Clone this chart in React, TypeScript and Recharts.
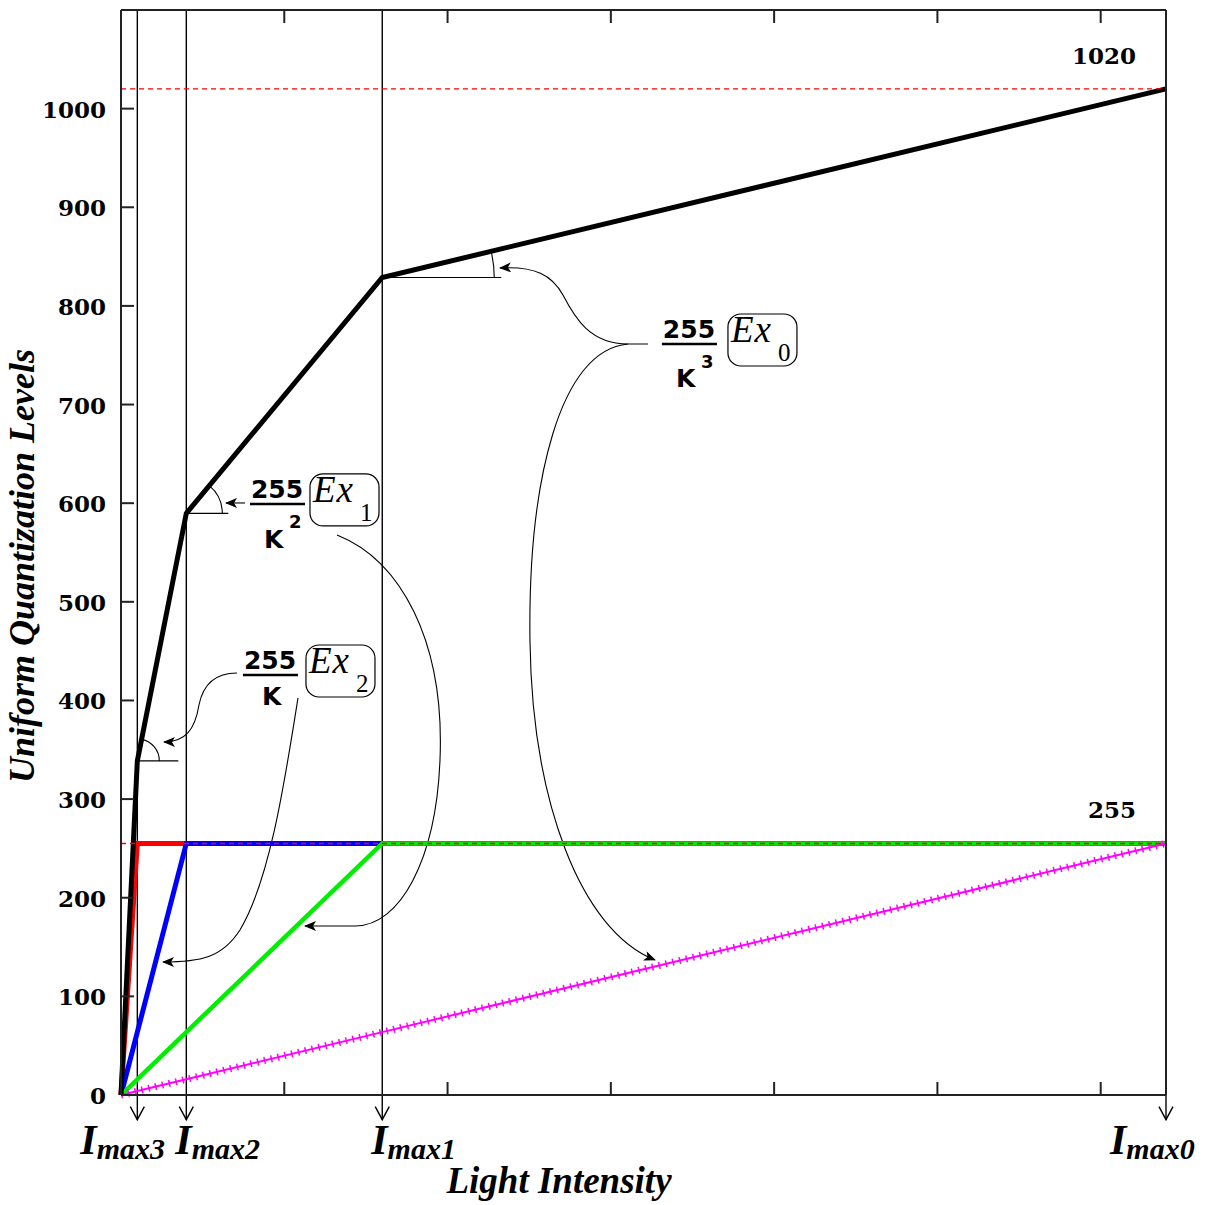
import {
  Line,
  LineChart,
  ReferenceDot,
  ReferenceLine,
  XAxis,
  YAxis,
  usePlotArea,
} from "recharts";

// light intensity breakpoints (Imax3 = 1 ... Imax0 = 64, K = 4)
const intensity = [0, 1, 4, 16, 64];
const exposure3 = [0, 255, 255, 255, 255]; // red
const exposure2 = [0, 63.75, 255, 255, 255]; // blue
const exposure1 = [0, 15.9, 63.75, 255, 255]; // green
const exposure0 = [0, 4, 15.9, 63.75, 255]; // magenta
const combined = [0, 338.7, 589.7, 828.8, 1020]; // black

const xTicks = [10, 20, 30, 40, 50, 60];
const yTicks = [0, 100, 200, 300, 400, 500, 600, 700, 800, 900, 1000];
const imaxPositions = [1, 4, 16];
const imaxLabels = ["max3", "max2", "max1", "max0"];
const imaxValues = [1, 4, 16, 64];
const imaxShift = [-57, -11, -11, -56];
const levelLines = [1020, 255];

const X_MAX = 64;
const Y_MAX = 1100;
const FRAME = "#222";

const data = intensity.map((x, i) => ({
  x,
  red: exposure3[i],
  blue: exposure2[i],
  green: exposure1[i],
  magenta: exposure0[i],
  black: combined[i],
}));

function LeftTick({ x, y, payload }: any) {
  return (
    <g>
      <line x1={x} x2={x + 13} y1={y} y2={y} stroke={FRAME} strokeWidth={2} />
      <text
        x={x - 15}
        y={y + 9}
        textAnchor="end"
        fontFamily="DejaVu Serif"
        fontWeight="bold"
        fontSize={23}
        fill="#000"
      >
        {payload.value}
      </text>
    </g>
  );
}

function BottomTick({ x, y }: any) {
  return <line x1={x} x2={x} y1={y} y2={y - 13} stroke={FRAME} strokeWidth={2} />;
}

function TopTick({ x, y }: any) {
  return <line x1={x} x2={x} y1={y} y2={y + 13} stroke={FRAME} strokeWidth={2} />;
}

function RightTick({ x, y }: any) {
  return <line x1={x} x2={x - 13} y1={y} y2={y} stroke={FRAME} strokeWidth={2} />;
}

function LevelLabel({ viewBox, text }: any) {
  if (!viewBox) return null;
  return (
    <text
      x={viewBox.x + viewBox.width - 30}
      y={viewBox.y - 25}
      textAnchor="end"
      fontFamily="DejaVu Serif"
      fontWeight="bold"
      fontSize={23}
      fill="#000"
    >
      {text}
    </text>
  );
}

function ImaxMark({ cx, cy, label, shift }: any) {
  return (
    <g>
      <path
        d={`M${cx - 7},${cy - 13} L${cx},${cy} L${cx + 7},${cy - 13}`}
        fill="none"
        stroke="#000"
        strokeWidth={1.4}
      />
      <text
        x={cx + shift}
        y={cy + 34}
        fontFamily="Liberation Serif"
        fontStyle="italic"
        fontWeight="bold"
        fill="#000"
      >
        <tspan fontSize={42}>I</tspan>
        <tspan fontSize={30} dy={5}>
          {label}
        </tspan>
      </text>
    </g>
  );
}

// fraction 255/K^n with boxed Ex_i, anchored at left end of fraction bar
function FracLabel({ bx, by, power, sub, boxDx, denomDy }: any) {
  return (
    <g fill="#000">
      <text x={bx + 27} y={by - 6} textAnchor="middle" fontFamily="DejaVu Sans" fontWeight="bold" fontSize={25}>
        255
      </text>
      <line x1={bx} x2={bx + 55} y1={by} y2={by} stroke="#000" strokeWidth={2.5} />
      <text x={power ? bx + 14 : bx + 19} y={by + denomDy} fontFamily="DejaVu Sans" fontWeight="bold" fontSize={25}>
        K
      </text>
      {power && (
        <text x={bx + 39} y={by + 24} fontFamily="DejaVu Sans" fontWeight="bold" fontSize={18}>
          {power}
        </text>
      )}
      <rect x={bx + boxDx} y={by - 30} width={69} height={52} rx={13} fill="none" stroke="#000" strokeWidth={1.2} />
      <text x={bx + boxDx + 3} y={by - 2} fontFamily="Liberation Serif" fontStyle="italic" fontSize={37} letterSpacing={1}>
        Ex
      </text>
      <text x={bx + boxDx + 50} y={by + 17} fontFamily="Liberation Serif" fontSize={25}>
        {sub}
      </text>
    </g>
  );
}

function Annotations() {
  const area = usePlotArea();
  if (!area) return null;
  const sx = (v: number) => area.x + (v / X_MAX) * area.width;
  const sy = (v: number) => area.y + area.height - (v / Y_MAX) * area.height;

  // angle marks at the knees of the combined curve
  const knees = [
    { i: 1, r: 22, len: 41 },
    { i: 2, r: 36, len: 42 },
    { i: 3, r: 112, len: 119 },
  ];

  const ex0 = { x: sx(33.13), y: sy(761.4) };
  const ex1 = { x: sx(7.9), y: sy(599.2) };
  const ex2 = { x: sx(7.47), y: sy(425.8) };

  const rel = (o: { x: number; y: number }, d: string) =>
    d.replace(/(-?\d+(?:\.\d+)?),(-?\d+(?:\.\d+)?)/g, (_m, a, b) => `${o.x + Number(a)},${o.y + Number(b)}`);

  const curve = { fill: "none", stroke: "#000", strokeWidth: 1.1, markerEnd: "url(#arrowHead)" };

  return (
    <g>
      <defs>
        <marker id="arrowHead" markerWidth={12} markerHeight={10} refX={11} refY={5} orient="auto" markerUnits="userSpaceOnUse">
          <path d="M0,0 L12,5 L0,10 L3,5 Z" fill="#000" />
        </marker>
      </defs>

      {knees.map(({ i, r, len }) => {
        const cx = sx(intensity[i]);
        const cy = sy(combined[i]);
        const nx = sx(intensity[i + 1]);
        const ny = sy(combined[i + 1]);
        const a = Math.atan2(ny - cy, nx - cx);
        return (
          <g key={i} fill="none" stroke="#000" strokeWidth={1.1}>
            <line x1={cx} x2={cx + len} y1={cy} y2={cy} />
            <path d={`M${cx + r},${cy} A${r},${r} 0 0 0 ${cx + r * Math.cos(a)},${cy + r * Math.sin(a)}`} />
          </g>
        );
      })}

      <FracLabel bx={ex0.x} by={ex0.y} power="3" sub="0" boxDx={66} denomDy={43} />
      <FracLabel bx={ex1.x} by={ex1.y} power="2" sub="1" boxDx={60} denomDy={44} />
      <FracLabel bx={ex2.x} by={ex2.y} power="" sub="2" boxDx={63} denomDy={30} />

      <path {...curve} d={rel(ex0, "M-14,0 L-34,0 C-72,0 -87,-26 -99,-49 C-110,-69 -127,-78 -162,-76")} />
      <path {...curve} d={rel(ex0, "M-34,0 C-102,6 -134,136 -132,296 C-130,456 -82,586 -7,616")} />
      <path {...curve} d={rel(ex1, "M87,31 C150,56 195,136 190,256 C186,356 150,422 105,422 L55,422")} />
      <path {...curve} d={rel(ex1, "M-5,-1 L-24,-1")} />
      <path {...curve} d={rel(ex2, "M55,23 C42,105 27,205 -3,255 C-21,283 -43,287 -80,287")} />
      <path {...curve} d={rel(ex2, "M-6,-2 C-28,-2 -40,10 -44,30 C-48,55 -58,67 -79,67")} />

      <text
        x={area.x + 438}
        y={area.y + area.height + 98}
        textAnchor="middle"
        fontFamily="Liberation Serif"
        fontStyle="italic"
        fontWeight="bold"
        fontSize={37}
        fill="#000"
      >
        Light Intensity
      </text>
      <text
        transform={`translate(${area.x - 87},${area.y + 556}) rotate(-90)`}
        textAnchor="middle"
        fontFamily="Liberation Serif"
        fontStyle="italic"
        fontWeight="bold"
        fontSize={36}
        fill="#000"
      >
        Uniform Quantization Levels
      </text>
    </g>
  );
}

export default function App() {
  return (
    <div style={{ position: "absolute", left: 0, top: 0, background: "#fff" }}>
      <LineChart width={1209} height={1205} data={data} margin={{ top: 9, right: 42, bottom: 20, left: 21 }}>
        <XAxis
          dataKey="x"
          type="number"
          domain={[0, X_MAX]}
          ticks={xTicks}
          interval={0}
          height={90}
          tickSize={0}
          tickMargin={0}
          tickLine={false}
          tick={<BottomTick />}
          axisLine={{ stroke: FRAME, strokeWidth: 2 }}
        />
        <XAxis
          xAxisId="top"
          dataKey="x"
          orientation="top"
          type="number"
          domain={[0, X_MAX]}
          ticks={xTicks}
          interval={0}
          height={1}
          tickSize={0}
          tickMargin={0}
          tickLine={false}
          tick={<TopTick />}
          axisLine={{ stroke: FRAME, strokeWidth: 2 }}
        />
        <YAxis
          type="number"
          domain={[0, Y_MAX]}
          ticks={yTicks}
          interval={0}
          width={100}
          tickSize={0}
          tickMargin={0}
          tickLine={false}
          tick={<LeftTick />}
          axisLine={{ stroke: FRAME, strokeWidth: 2 }}
        />
        <YAxis
          yAxisId="right"
          orientation="right"
          type="number"
          domain={[0, Y_MAX]}
          ticks={yTicks}
          interval={0}
          width={1}
          tickSize={0}
          tickMargin={0}
          tickLine={false}
          tick={<RightTick />}
          axisLine={{ stroke: FRAME, strokeWidth: 2 }}
        />

        {imaxPositions.map((v) => (
          <ReferenceLine
            key={v}
            segment={[
              { x: v, y: Y_MAX },
              { x: v, y: -25 },
            ]}
            ifOverflow="visible"
            stroke="#000"
            strokeWidth={1.4}
          />
        ))}
        <ReferenceLine
          segment={[
            { x: X_MAX, y: 0 },
            { x: X_MAX, y: -25 },
          ]}
          ifOverflow="visible"
          stroke="#000"
          strokeWidth={1.4}
        />

        <Line type="linear" dataKey="red" stroke="#ff0000" strokeWidth={5} dot={false} isAnimationActive={false} />
        <Line type="linear" dataKey="blue" stroke="#0000ff" strokeWidth={5} dot={false} isAnimationActive={false} />
        <Line type="linear" dataKey="green" stroke="#00ee00" strokeWidth={4.5} dot={false} isAnimationActive={false} />
        <Line type="linear" dataKey="magenta" stroke="#ff00ff" strokeWidth={2} dot={false} isAnimationActive={false} />
        <Line
          type="linear"
          dataKey="magenta"
          stroke="#ff00ff"
          strokeWidth={7}
          strokeDasharray="1.5 5.5"
          dot={false}
          isAnimationActive={false}
        />
        <Line type="linear" dataKey="black" stroke="#000" strokeWidth={5} dot={false} isAnimationActive={false} />

        {levelLines.map((v) => (
          <ReferenceLine
            key={v}
            y={v}
            stroke="#ff0000"
            strokeWidth={1.3}
            strokeDasharray="5 4"
            label={<LevelLabel text={String(v)} />}
          />
        ))}

        {imaxValues.map((v, i) => (
          <ReferenceDot
            key={v}
            x={v}
            y={-25}
            ifOverflow="visible"
            shape={(p: any) => <ImaxMark {...p} label={imaxLabels[i]} shift={imaxShift[i]} />}
          />
        ))}

        <Annotations />
      </LineChart>
    </div>
  );
}
